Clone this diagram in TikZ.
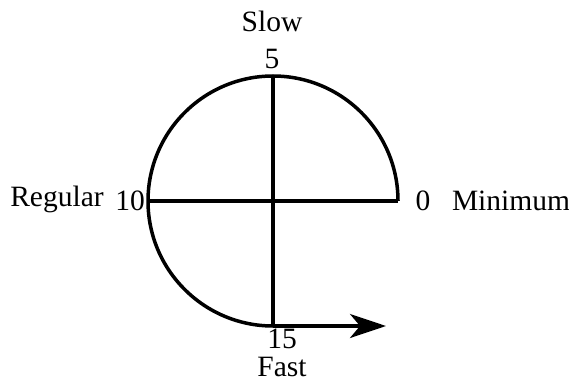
\documentclass[tikz,border=0pt]{standalone}
\usepackage{fontspec}
\setmainfont{Liberation Serif}
\usetikzlibrary{arrows.meta}
\begin{document}
\begin{tikzpicture}[x=1pt,y=1pt,
  lbl/.style={font=\fontsize{29.5}{32}\selectfont, inner sep=0pt},
  thick line/.style={line width=3.5pt}]
\useasboundingbox (0,0) rectangle (569,383);
\coordinate (C) at (273,182);
\coordinate (R) at (398,182);
\coordinate (L) at (148,182);
\coordinate (T) at (273,307);
\coordinate (B) at (273,57);
\coordinate (E) at (386,57);
\draw[thick line] (R) arc[start angle=0, end angle=270, radius=125];
\draw[thick line] (T) -- (B);
\draw[thick line] (L) -- (R);
\draw[thick line, -{Stealth[length=36pt,width=24pt,inset=10pt]}] (B) -- (E);
\node[lbl] (slow) at (272,362) {Slow};
\node[lbl] (five) at (272,324) {5};
\node[lbl] (regular) at (57,184) {Regular};
\node[lbl] (ten) at (130,182) {10};
\node[lbl] (zero) at (423,182) {0};
\node[lbl] (minimum) at (511,182) {Minimum};
\node[lbl] (fifteen) at (282,44.5) {15};
\node[lbl] (fast) at (282,16) {Fast};
\end{tikzpicture}
\end{document}
